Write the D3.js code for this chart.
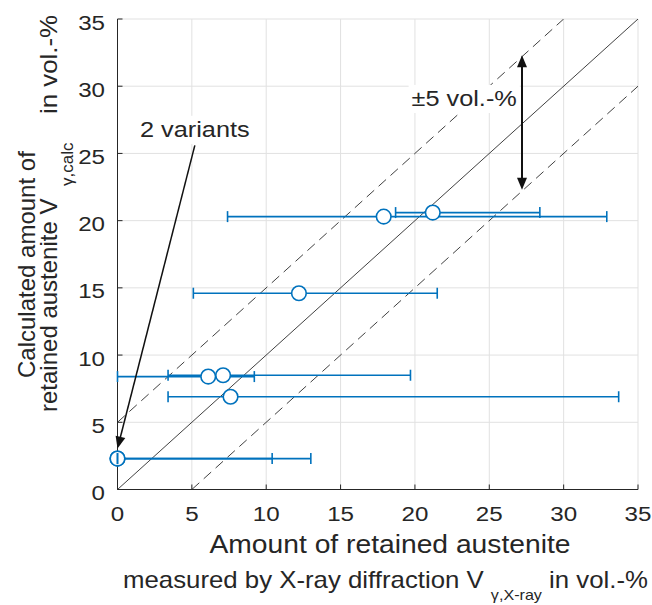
<!DOCTYPE html>
<html><head><meta charset="utf-8">
<script src="https://cdn.jsdelivr.net/npm/d3@7"></script>
<style>
body{margin:0;background:#fff}
svg{display:block}
text{font-family:"Liberation Sans",Arial,sans-serif;fill:#262626}
</style>
</head><body>
<svg id="c" width="652" height="605"></svg>
<script>
// ---- data ----
const xMeasured = [17.9, 21.2, 12.2, 6.1, 7.1, 7.6, 0, 0];
const yCalc     = [20.3, 20.6, 14.6, 8.4, 8.5, 6.9, 2.3, 2.3];
const xLow      = [7.4, 18.7, 5.1, 0, 3.4, 3.4, 0, 0];
const xHigh     = [32.9, 28.4, 21.5, 9.2, 19.7, 33.7, 10.4, 13.0];
const xTicks = [0, 5, 10, 15, 20, 25, 30, 35];
const yTicks = [0, 5, 10, 15, 20, 25, 30, 35];
const bandOffsets = [-5, 0, 5];
const axisMax = 35;
const variantsArrow = {text: "2 variants", textX: 5.2, textY: 26.2, fromX: 5.2, fromY: 25.6, toX: 0, toY: 3.05};
const toleranceArrow = {text: "\u00b15 vol.-%", x: 27.2, y1: 22.3, y2: 32.3, textX: 26.85, textY: 28.5};

// ---- layout ----
const L = 117.5, R = 638, T = 19, B = 489.5;
const svg = d3.select("#c");
const x = d3.scaleLinear().domain([0, axisMax]).range([L, R]);
const y = d3.scaleLinear().domain([0, axisMax]).range([B, T]);
const blue = "#0072BD", axisCol = "#262626", gridCol = "#e1e1e1";

// grid
const grid = svg.append("g");
grid.selectAll(".gx").data(xTicks.filter(d => d > 0)).join("line")
  .attr("x1", d => x(d)).attr("x2", d => x(d)).attr("y1", T).attr("y2", B)
  .attr("stroke", gridCol).attr("stroke-width", 1);
grid.selectAll(".gy").data(yTicks.filter(d => d > 0)).join("line")
  .attr("y1", d => y(d)).attr("y2", d => y(d)).attr("x1", L).attr("x2", R)
  .attr("stroke", gridCol).attr("stroke-width", 1);

// reference lines
const clipId = "plotclip";
svg.append("clipPath").attr("id", clipId).append("rect")
  .attr("x", L).attr("y", T).attr("width", R - L).attr("height", B - T);
const ref = svg.append("g").attr("clip-path", `url(#${clipId})`);
ref.selectAll("line").data(bandOffsets).join("line")
  .attr("x1", d => x(Math.max(0, -d))).attr("y1", d => y(Math.max(0, -d) + d))
  .attr("x2", d => x(Math.min(axisMax, axisMax - d))).attr("y2", d => y(Math.min(axisMax, axisMax - d) + d))
  .attr("stroke", "#2b2b2b").attr("stroke-width", 0.9)
  .attr("stroke-dasharray", d => d === 0 ? null : "10,6");

// axes
const ax = svg.append("g");
ax.append("line").attr("x1", L).attr("x2", R).attr("y1", B).attr("y2", B).attr("stroke", axisCol);
ax.append("line").attr("x1", L).attr("x2", L).attr("y1", T).attr("y2", B).attr("stroke", axisCol);
ax.selectAll(".tx").data(xTicks).join("line")
  .attr("x1", d => x(d)).attr("x2", d => x(d)).attr("y1", B).attr("y2", B - 5).attr("stroke", axisCol);
ax.selectAll(".ty").data(yTicks).join("line")
  .attr("y1", d => y(d)).attr("y2", d => y(d)).attr("x1", L).attr("x2", L + 5).attr("stroke", axisCol);

function hText(g, px, py, str, size, anchor, sx) {
  return g.append("text").attr("transform", `translate(${px},${py}) scale(${sx},1)`)
    .attr("text-anchor", anchor).attr("font-size", size).text(str);
}
const labs = svg.append("g");
xTicks.forEach(d => hText(labs, x(d), 521, d, 21, "middle", 1.15));
yTicks.forEach(d => hText(labs, 105, y(d) + 10.5, d, 21, "end", 1.15));

// error bars
const idx = d3.range(xMeasured.length);
const eb = svg.append("g");
eb.selectAll(".bar").data(idx).join("line")
  .attr("x1", i => x(xLow[i])).attr("x2", i => x(xHigh[i]))
  .attr("y1", i => y(yCalc[i])).attr("y2", i => y(yCalc[i]))
  .attr("stroke", blue).attr("stroke-width", 1.6);
eb.selectAll(".pt").data(idx).join("circle")
  .attr("cx", i => x(xMeasured[i])).attr("cy", i => y(yCalc[i])).attr("r", 7.3)
  .attr("fill", "#fff").attr("stroke", blue).attr("stroke-width", 1.6);
const caps = [];
idx.forEach(i => { caps.push([xLow[i], yCalc[i]]); caps.push([xHigh[i], yCalc[i]]); });
eb.selectAll(".cap").data(caps).join("line")
  .attr("x1", d => x(d[0])).attr("x2", d => x(d[0]))
  .attr("y1", d => y(d[1]) - 5.5).attr("y2", d => y(d[1]) + 5.5)
  .attr("stroke", blue).attr("stroke-width", 1.6);

// arrowheads
function head(g, tx, ty, fx, fy, len, wid) {
  const a = Math.atan2(ty - fy, tx - fx);
  const bx = tx - len * Math.cos(a), by = ty - len * Math.sin(a);
  const nx = -Math.sin(a) * wid / 2, ny = Math.cos(a) * wid / 2;
  g.append("path").attr("d", `M${tx},${ty}L${bx + nx},${by + ny}L${bx - nx},${by - ny}Z`).attr("fill", "#111");
}
const ann = svg.append("g");
{
  const a = variantsArrow;
  const fx = x(a.fromX), fy = y(a.fromY), tx = x(a.toX), ty = y(a.toY);
  const ang = Math.atan2(ty - fy, tx - fx);
  ann.append("line").attr("x1", fx).attr("y1", fy)
    .attr("x2", tx - 10 * Math.cos(ang)).attr("y2", ty - 10 * Math.sin(ang))
    .attr("stroke", "#111").attr("stroke-width", 1.5);
  head(ann, tx, ty, fx, fy, 12, 10);
}
{
  const a = toleranceArrow;
  const px = x(a.x), p1 = y(a.y1), p2 = y(a.y2);
  ann.append("line").attr("x1", px).attr("x2", px).attr("y1", p2 + 10).attr("y2", p1 - 10)
    .attr("stroke", "#111").attr("stroke-width", 2);
  head(ann, px, p2, px, p1, 12, 10);
  head(ann, px, p1, px, p2, 12, 10);
}
function boxedText(px, py, str, size, anchor, sx) {
  const g = ann.append("g");
  const rect = g.append("rect").attr("fill", "#fff");
  const t = hText(g, px, py, str, size, anchor, sx);
  const bb = t.node().getBBox();
  const w = bb.width * sx;
  let left = anchor === "middle" ? px - w / 2 : anchor === "end" ? px - w : px;
  rect.attr("x", left - 3).attr("y", py + bb.y - 2).attr("width", w + 6).attr("height", bb.height + 4);
}
boxedText(x(variantsArrow.textX), y(variantsArrow.textY), variantsArrow.text, 22, "middle", 1.15);
boxedText(x(toleranceArrow.textX), y(toleranceArrow.textY), toleranceArrow.text, 22, "end", 1.15);

// axis labels
hText(svg, 390, 553, "Amount of retained austenite", 25, "middle", 1.13);
const xl2 = svg.append("text").attr("transform", "translate(123,588)").attr("font-size", 24)
  .attr("textLength", 525).attr("lengthAdjust", "spacingAndGlyphs");
xl2.append("tspan").text("measured by X-ray diffraction V ");
xl2.append("tspan").attr("font-size", 15).attr("dy", 12).text("\u03b3,X-ray");
xl2.append("tspan").attr("dy", -12).text(" in vol.-%");

svg.append("text").attr("transform", "translate(35,378) rotate(-90)").attr("font-size", 24)
  .text("Calculated amount of");
svg.append("text").attr("transform", "translate(57,412) rotate(-90)").attr("font-size", 24)
  .text("retained austenite V");
svg.append("text").attr("transform", "translate(73,186) rotate(-90)").attr("font-size", 17)
  .text("\u03b3,calc");
svg.append("text").attr("transform", "translate(57,114) rotate(-90)").attr("font-size", 24)
  .attr("textLength", 99).attr("lengthAdjust", "spacingAndGlyphs")
  .text("in vol.-%");
</script>
</body></html>
